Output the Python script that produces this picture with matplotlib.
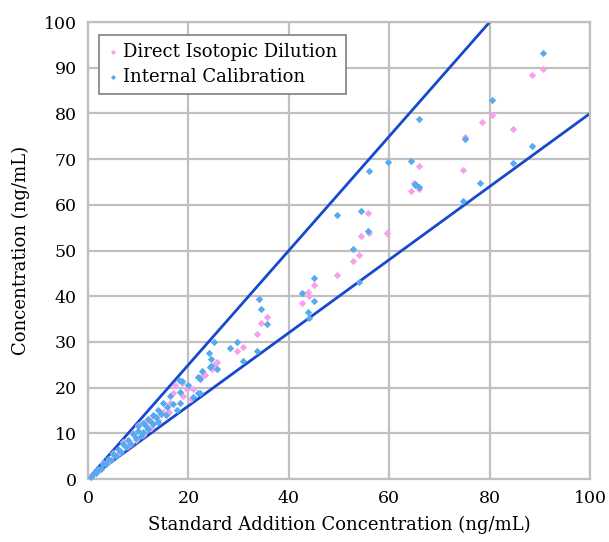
import matplotlib.pyplot as plt

# Direct isotopic dilution results (x: standard addition, y: measured)
idd_x = [0.8, 1.5, 2.2, 3.0, 4.0, 5.0, 6.0, 7.0, 8.0, 9.0, 9.5, 10.0, 11.0, 11.5,
         12.5, 13.0, 14.0, 15.0, 16.2, 16.3, 17.0, 17.3, 18.7, 19.0, 19.7, 20.6,
         20.9, 22.7, 23.3, 24.6, 25.2, 25.6, 29.7, 30.9, 33.7, 34.0, 34.5, 35.7,
         42.7, 43.8, 44.0, 45.0, 49.6, 52.7, 54.0, 54.4, 55.8, 56.0, 59.6, 64.3,
         64.9, 66.0, 65.9, 74.6, 75.0, 78.4, 80.5, 84.7, 88.4, 90.6]
idd_y = [0.9, 1.6, 2.0, 3.5, 3.8, 5.8, 5.4, 8.0, 7.2, 10.0, 8.5, 11.8, 9.6, 12.8,
         11.2, 13.8, 13.0, 14.7, 14.7, 16.7, 18.8, 20.6, 21.1, 18.2, 19.8, 17.6,
         19.6, 22.6, 22.8, 24.1, 25.1, 25.5, 28.1, 28.9, 31.7, 39.3, 34.2, 35.4,
         38.5, 41.0, 40.0, 42.4, 44.6, 47.6, 49.1, 53.2, 58.1, 53.8, 53.8, 63.1,
         64.8, 63.4, 68.5, 67.6, 74.8, 78.2, 79.7, 76.6, 88.3, 89.7]

# Internal calibration results
ic_x = [0.5, 1.0, 1.5, 2.0, 2.5, 3.0, 3.5, 4.0, 4.5, 5.0, 5.5, 6.0, 6.5, 7.0,
        7.5, 8.0, 8.5, 9.0, 9.5, 10.0, 10.0, 10.5, 11.0, 11.0, 11.5, 12.0, 12.0,
        12.5, 13.0, 13.0, 13.5, 14.0, 14.0, 14.5, 15.0, 15.5, 15.7, 16.3, 17.0,
        17.7, 18.2, 18.3, 18.3, 18.7, 19.9, 21.0, 22.0, 22.3, 22.0, 22.4, 22.7,
        24.2, 24.0, 24.5, 24.5, 25.0, 25.6, 28.3, 29.7, 30.9, 33.7, 34.0, 34.5,
        35.7, 42.7, 43.8, 44.0, 45.0, 45.0, 49.6, 52.7, 54.0, 54.4, 55.8, 56.0,
        59.7, 64.3, 65.1, 65.1, 65.9, 66.0, 74.6, 75.0, 78.1, 80.5, 84.7, 88.4,
        90.6]
ic_y = [0.5, 1.1, 1.4, 2.2, 2.3, 3.3, 3.2, 4.3, 4.1, 5.4, 5.0, 6.5, 6.0, 7.6,
        7.0, 8.5, 7.6, 9.8, 9.0, 10.5, 11.5, 9.5, 12.3, 10.2, 11.5, 13.2, 11.0,
        12.5, 14.0, 12.0, 13.5, 15.0, 12.5, 14.2, 16.6, 14.0, 15.8, 18.2, 16.5,
        15.1, 21.7, 19.1, 16.7, 21.5, 20.6, 18.0, 18.8, 18.8, 22.3, 21.8, 23.7,
        24.6, 27.6, 26.3, 24.7, 29.9, 24.1, 28.7, 29.9, 25.8, 28.1, 39.3, 37.3,
        33.9, 40.6, 36.5, 35.2, 43.9, 39.0, 57.7, 50.3, 43.2, 58.6, 54.3, 67.5,
        69.4, 69.6, 64.6, 64.3, 63.8, 78.8, 60.9, 74.3, 64.8, 82.9, 69.1, 72.9,
        93.2]

# bounding lines y = 1.25x and y = 0.8x
upper_slope = 1.25
lower_slope = 0.8

plt.rcParams['font.family'] = ['DejaVu Serif']

fig = plt.figure(figsize=(6.09, 5.42), dpi=100)
ax = fig.add_axes([0.1445, 0.1162, 0.8245, 0.8432])

grid_col = '#c0c0c0'
ax.set_xlim(0, 100)
ax.set_ylim(0, 100)
ax.set_xticks(range(0, 101, 20))
ax.set_yticks(range(0, 101, 10))
ax.grid(True, color=grid_col, linewidth=1.6, zorder=0)
ax.set_axisbelow(True)
for s in ax.spines.values():
    s.set_color(grid_col)
    s.set_linewidth(1.6)
ax.tick_params(length=0, labelsize=12.5, pad=8)

ax.plot([0, 100], [0, 100 * upper_slope], color='#1749cc', lw=2, zorder=2)
ax.plot([0, 100], [0, 100 * lower_slope], color='#1749cc', lw=2, zorder=2)

ax.scatter(idd_x, idd_y, marker='D', s=14, color='#f7a0ee', linewidths=0,
           label='Direct Isotopic Dilution', zorder=3, clip_on=False)
ax.scatter(ic_x, ic_y, marker='D', s=14, color='#55aaf0', linewidths=0,
           label='Internal Calibration', zorder=3, clip_on=False)

ax.set_xlabel('Standard Addition Concentration (ng/mL)', fontsize=13, labelpad=6)
ax.set_ylabel('Concentration (ng/mL)', fontsize=13, labelpad=10)

leg = ax.legend(loc='upper left', bbox_to_anchor=(0.022, 0.972), fontsize=13,
                fancybox=False, framealpha=1, edgecolor='#808080',
                handletextpad=0.2, borderpad=0.45, handlelength=0.7,
                labelspacing=0.4, markerscale=0.7, borderaxespad=0)
leg.get_frame().set_linewidth(1.2)

fig.savefig('out.png', dpi=100)
